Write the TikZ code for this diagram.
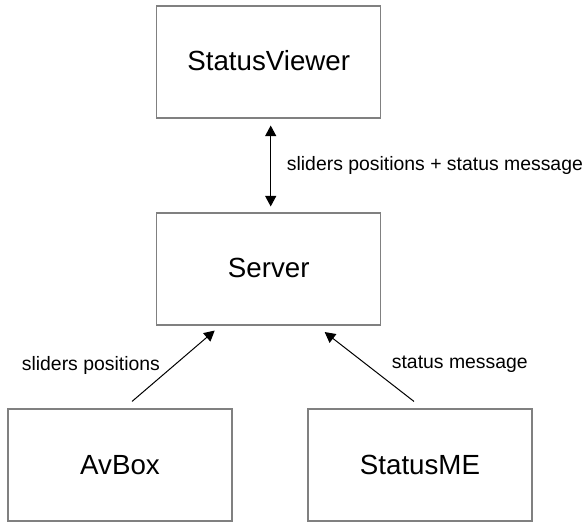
\documentclass[tikz,border=0pt]{standalone}
\usepackage{fontspec}
\setmainfont{Liberation Sans}
\usetikzlibrary{arrows.meta}
\definecolor{boxgray}{RGB}{128,128,128}
\tikzset{
  box/.style={draw=boxgray, line width=1.1pt, minimum width=224pt, minimum height=112pt,
    inner sep=0pt, font=\fontsize{27.7}{33}\selectfont, text depth=0pt},
  conn/.style={line width=1pt, -{Triangle[length=10.5pt,width=11pt]}},
  biconn/.style={line width=1pt, {Triangle[length=10.5pt,width=11pt]}-{Triangle[length=10.5pt,width=11pt]}},
  lbl/.style={font=\fontsize{19.4}{23}\selectfont, inner sep=0pt, anchor=base west}
}
\begin{document}
\begin{tikzpicture}[x=1pt,y=-1pt]
\useasboundingbox (0,0) rectangle (586,522);
\node[box] (sv) at (268.7,62) {\raisebox{3.5pt}{StatusViewer}};
\node[box] (server) at (268.7,269) {\raisebox{2pt}{Server}};
\node[box] (av) at (120,465) {AvBox};
\node[box] (sme) at (420,465) {StatusME};
\draw[biconn] ([xshift=2pt,yshift=-7pt]sv.south) -- ([xshift=2pt,yshift=6pt]server.north);
\draw[conn] ([xshift=12pt,yshift=7pt]av.north) -- ([xshift=-54pt,yshift=-5pt]server.south);
\draw[conn] ([xshift=-6pt,yshift=7pt]sme.north) -- ([xshift=56pt,yshift=-6.5pt]server.south);
\node[lbl] (l1) at (286.7,170) {sliders positions + status message};
\node[lbl] (l2) at (21.7,370) {sliders positions};
\node[lbl] (l3) at (391.7,368) {status message};
\end{tikzpicture}
\end{document}
